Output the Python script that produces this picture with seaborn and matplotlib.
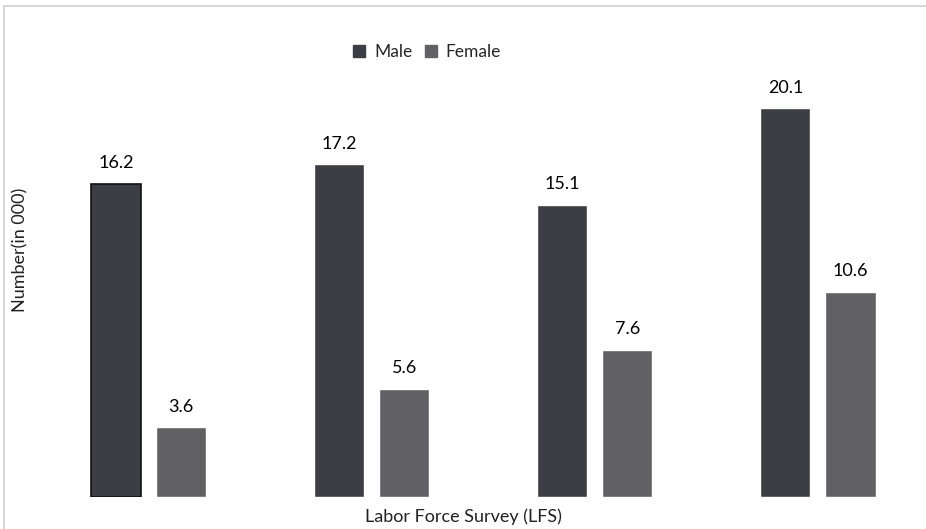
import numpy as np
import pandas as pd
import matplotlib.pyplot as plt
import seaborn as sns
from matplotlib.patches import Rectangle

# data
surveys = ["LFS 1", "LFS 2", "LFS 3", "LFS 4"]
male = [16.2, 17.2, 15.1, 20.1]
female = [3.6, 5.6, 7.6, 10.6]
series = ["Male", "Female"]
colors = ["#3d3e43", "#616165"]

df = pd.DataFrame({
    "survey": surveys * 2,
    "sex": ["Male"] * len(male) + ["Female"] * len(female),
    "value": male + female,
})

sns.set_style("white")
plt.rcParams["font.family"] = ["Lato", "DejaVu Sans"]

fig = plt.figure(figsize=(9.26, 5.29), dpi=100)
W, H = 926, 529
ax = fig.add_axes([37 / W, (H - 497) / H, (W - 37) / W, (497 - 70) / H])

sns.barplot(data=df, x="survey", y="value", hue="sex", hue_order=series,
            palette=colors, width=0.583, gap=0.23, saturation=1,
            ax=ax, legend=False)

ax.set_xlim(-0.5, 3 + (W - 818) / 223)
ax.set_ylim(0, (497 - 70) / 19.35)

# first male bar has a dark outline
first = ax.patches[0]
first.set_edgecolor("#111111")
first.set_linewidth(1.2)

for cont in ax.containers:
    ax.bar_label(cont, fmt="%.1f", padding=9, fontsize=13, color="#000000")

ax.set_xticks([])
ax.set_yticks([])
for s in ax.spines.values():
    s.set_visible(False)
ax.set_xlabel("")
ax.set_ylabel("")

fig.text(463 / W, 1 - 517 / H, "Labor Force Survey (LFS)", ha="center", va="center",
         fontsize=13, color="#222222")
fig.text(20 / W, 1 - 250 / H, "Number(in 000)", ha="center", va="center",
         rotation=90, fontsize=13, color="#222222")

handles = [Rectangle((0, 0), 1, 1, color=c) for c in colors]
fig.legend(handles, series, loc="center", bbox_to_anchor=(427 / W, 1 - 52 / H),
           ncol=2, frameon=False, fontsize=12.5, handlelength=0.7, handleheight=0.7,
           handletextpad=0.5, columnspacing=0.7)

# light chart-area border
fig.patches.append(Rectangle((4 / W, -0.01), 1.0, 1 - 6 / H + 0.01, transform=fig.transFigure,
                             fill=False, edgecolor="#cfcfcf", linewidth=1.2))

fig.savefig("out.png", dpi=100)
